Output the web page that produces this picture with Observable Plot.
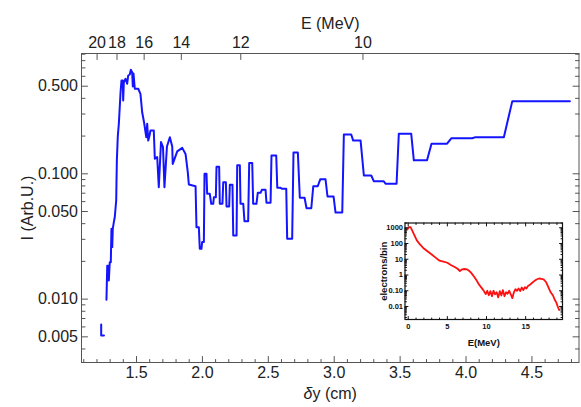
<!DOCTYPE html>
<html><head><meta charset="utf-8">
<script src="https://cdn.jsdelivr.net/npm/d3@7"></script>
<script src="https://cdn.jsdelivr.net/npm/@observablehq/plot@0.6"></script>
<style>
body{margin:0;background:#fff;}
#wrap{position:relative;width:581px;height:407px;overflow:hidden;}
#inset{position:absolute;left:370px;top:215px;}
</style></head><body>
<div id="wrap"><div id="main"></div><div id="inset"></div></div>
<script>
// ---- main curve (δy in cm, intensity in arb. units) ----
const dyIsolated = [1.232, 1.232, 1.253];
const iIsolated = [0.00627, 0.00512, 0.00512];
const dyMain = [1.272,1.278,1.285,1.290,1.297,1.305,1.310,1.316,1.320,1.328,1.335,1.346,1.348,1.351,1.358,1.366,1.379,1.386,1.396,1.399,1.404,1.417,1.429,1.437,1.449,1.457,1.467,1.472,1.477,1.487,1.513,1.530,1.543,1.557,1.574,1.581,1.589,1.599,1.606,1.631,1.639,1.657,1.669,1.686,1.701,1.712,1.731,1.753,1.771,1.775,1.809,1.847,1.872,1.889,1.897,1.948,1.955,1.973,1.980,1.993,1.998,2.011,2.016,2.031,2.036,2.056,2.067,2.082,2.087,2.102,2.107,2.127,2.132,2.152,2.158,2.178,2.183,2.203,2.208,2.228,2.234,2.259,2.264,2.284,2.289,2.310,2.319,2.347,2.355,2.378,2.385,2.410,2.420,2.441,2.451,2.479,2.486,2.517,2.524,2.560,2.568,2.593,2.605,2.636,2.643,2.681,2.691,2.724,2.739,2.775,2.790,2.826,2.841,2.875,2.894,2.934,2.949,2.995,3.010,3.061,3.073,3.129,3.144,3.200,3.225,3.281,3.300,3.376,3.389,3.473,3.490,3.584,3.604,3.704,3.738,3.856,3.888,4.047,4.072,4.287,4.351,4.788];
const iMain = [0.00987,0.0185,0.0185,0.0141,0.0197,0.0197,0.0364,0.0260,0.0364,0.0411,0.0450,0.0612,0.0837,0.129,0.199,0.251,0.448,0.555,0.555,0.385,0.538,0.573,0.523,0.609,0.620,0.676,0.647,0.497,0.632,0.477,0.477,0.435,0.310,0.258,0.196,0.251,0.184,0.202,0.222,0.222,0.132,0.136,0.0782,0.179,0.163,0.0782,0.165,0.196,0.165,0.120,0.151,0.161,0.144,0.103,0.0821,0.0796,0.0375,0.0375,0.0252,0.0252,0.0285,0.0285,0.100,0.100,0.0692,0.0692,0.0576,0.0576,0.0650,0.0650,0.114,0.114,0.0576,0.0576,0.0857,0.0857,0.0548,0.0548,0.0817,0.0817,0.0322,0.0322,0.117,0.117,0.0576,0.0576,0.0418,0.0418,0.122,0.122,0.0576,0.0576,0.0705,0.0705,0.0745,0.0745,0.0587,0.0587,0.140,0.140,0.0773,0.0773,0.0759,0.0759,0.0303,0.0303,0.148,0.148,0.0644,0.0644,0.0531,0.0531,0.0796,0.0796,0.0904,0.0904,0.0659,0.0659,0.0491,0.0491,0.206,0.206,0.184,0.184,0.0969,0.0969,0.0873,0.0873,0.0832,0.0832,0.209,0.209,0.128,0.128,0.174,0.174,0.192,0.192,0.196,0.196,0.380,0.380];

// ---- axes ----
const eTickPos = [1.201, 1.352, 1.558, 1.840, 2.291, 3.218];
const eTickLabels = ["20", "18", "16", "14", "12", "10"];
const xMajorTicks = [1.5, 2.0, 2.5, 3.0, 3.5, 4.0, 4.5];
const xTickLabels = ["1.5", "2.0", "2.5", "3.0", "3.5", "4.0", "4.5"];
const xMinorTicks = [1.1,1.2,1.3,1.4,1.6,1.7,1.8,1.9,2.1,2.2,2.3,2.4,2.6,2.7,2.8,2.9,3.1,3.2,3.3,3.4,3.6,3.7,3.8,3.9,4.1,4.2,4.3,4.4,4.6,4.7,4.8];
const yMajorTicks = [0.005, 0.01, 0.05, 0.1, 0.5];
const yTickLabels = ["0.005", "0.010", "0.050", "0.100", "0.500"];
const yMinorTicks = [0.004,0.006,0.007,0.008,0.009,0.02,0.03,0.04,0.06,0.07,0.08,0.09,0.2,0.3,0.4,0.6,0.7,0.8,0.9];

// ---- inset spectrum ----
const insetE = [-0.13,0.1,0.3,0.5,0.8,1.1,1.5,2.0,2.5,3.0,3.5,4.0,4.5,5.0,5.5,6.0,6.3,6.6,6.9,7.2,7.5,7.8,8.1,8.4,8.7,9.0,9.3,9.6,9.9,10.1,10.3,10.5,10.7,10.9,11.1,11.3,11.5,11.7,11.9,12.1,12.3,12.5,12.7,12.9,13.1,13.3,13.5,13.7,13.9,14.1,14.3,14.5,14.7,14.9,15.1,15.3,15.5,15.8,16.1,16.4,16.7,17.0,17.3,17.6,17.9,18.2,18.5,18.7,18.9,19.1,19.3];
const insetN = [760,1100,1100,690,330,157,87,48,31,20,12.6,8.1,7,6,4.2,3.1,2.5,1.8,2.3,2.4,2.3,1.8,1.26,0.81,0.49,0.27,0.17,0.11,0.061,0.10,0.052,0.095,0.045,0.10,0.06,0.08,0.038,0.095,0.05,0.11,0.045,0.08,0.065,0.10,0.06,0.034,0.08,0.125,0.10,0.14,0.095,0.16,0.11,0.17,0.14,0.2,0.23,0.31,0.41,0.52,0.6,0.56,0.52,0.36,0.17,0.08,0.05,0.028,0.019,0.01,0.006];
const insetXMajor = [0, 5, 10, 15];
const insetXLabels = ["0", "5", "10", "15"];
const insetXMinor = [1,2,3,4,6,7,8,9,11,12,13,14,16,17,18,19];
const insetYMajor = [0.01, 0.1, 1, 10, 100, 1000];
const insetYLabels = ["0.01", "0.10", "1", "10", "100", "1000"];

const font = "'Liberation Sans', Arial, sans-serif";
const frameColor = "#555";
const textColor = "#222";
const blue = "#1414ff";

// inward tick marks drawn as short vectors from the frame
const tickShape = {draw(ctx, l) { ctx.moveTo(0, 0); ctx.lineTo(0, -l); }};
function frameTicks(values, side, len, stroke, sw = 1) {
  const base = {length: len, shape: tickShape, anchor: "start", stroke, strokeWidth: sw};
  if (side === "left") return Plot.vector(values, {...base, y: d => d, frameAnchor: "left", rotate: 90});
  if (side === "right") return Plot.vector(values, {...base, y: d => d, frameAnchor: "right", rotate: -90});
  if (side === "top") return Plot.vector(values, {...base, x: d => d, frameAnchor: "top", rotate: 180});
  return Plot.vector(values, {...base, x: d => d, frameAnchor: "bottom", rotate: 0});
}

const mainRows = dyMain.map((d, i) => ({x: d, y: iMain[i]}));
const isoRows = dyIsolated.map((d, i) => ({x: d, y: iIsolated[i]}));

const main = Plot.plot({
  width: 581, height: 407,
  marginTop: 53, marginBottom: 45, marginLeft: 81, marginRight: 2.5,
  style: {fontFamily: font, fontSize: "16px", color: textColor, background: "white"},
  x: {domain: [1.0827, 4.857], axis: null},
  y: {type: "log", domain: [0.00312, 0.912], axis: null},
  marks: [
    Plot.line(isoRows, {x: "x", y: "y", stroke: blue, strokeWidth: 2}),
    Plot.line(mainRows, {x: "x", y: "y", stroke: blue, strokeWidth: 2}),
    Plot.frame({stroke: frameColor}),
    frameTicks(xMajorTicks, "bottom", 6, frameColor),
    frameTicks(xMinorTicks, "bottom", 3, frameColor),
    frameTicks(eTickPos, "top", 6, frameColor),
    frameTicks(yMajorTicks, "left", 6, frameColor),
    frameTicks(yMinorTicks, "left", 3.5, frameColor),
    frameTicks(yMajorTicks, "right", 6, frameColor),
    frameTicks(yMinorTicks, "right", 3.5, frameColor),
    Plot.text(xMajorTicks, {x: d => d, frameAnchor: "bottom", lineAnchor: "top", dy: 4, text: (d, i) => xTickLabels[i]}),
    Plot.text(eTickPos, {x: d => d, frameAnchor: "top", lineAnchor: "bottom", dy: -6, text: (d, i) => eTickLabels[i]}),
    Plot.text(yMajorTicks, {y: d => d, frameAnchor: "left", textAnchor: "end", dx: -3.5, text: (d, i) => yTickLabels[i]}),
    Plot.text(["E (MeV)"], {text: d => d, frameAnchor: "top", dy: -36}),
    Plot.text(["I (Arb.U.)"], {text: d => d, frameAnchor: "left", textAnchor: "middle", dx: -54, rotate: -90}),
    Plot.text(["δy (cm)"], {text: d => d, frameAnchor: "bottom", dy: 36})
  ]
});
d3.select(main).selectAll("text").filter(function () { return this.textContent === "δy (cm)"; })
  .each(function () {
    const t = d3.select(this);
    t.text(null);
    t.append("tspan").attr("font-style", "italic").text("δ");
    t.append("tspan").text("y (cm)");
  });
document.getElementById("main").append(main);

const insetRows = insetE.map((e, i) => ({x: e, y: insetN[i]}));
const insetMinorY = [0.001, 0.01, 0.1, 1, 10, 100, 1000]
  .flatMap(p => [2, 3, 4, 5, 6, 7, 8, 9].map(k => k * p))
  .filter(v => v >= 0.0015 && v <= 2000);

const ink = "#111";
const inset = Plot.plot({
  width: 200, height: 135,
  marginLeft: 34.5, marginTop: 7.5, marginRight: 8, marginBottom: 31,
  style: {fontFamily: font, fontSize: "7.5px", fontWeight: "bold", color: ink, background: "transparent", overflow: "visible"},
  x: {domain: [-0.41, 19.71], axis: null},
  y: {type: "log", domain: [0.0015, 2000], axis: null},
  marks: [
    Plot.frame({fill: "white"}),
    Plot.line(insetRows, {x: "x", y: "y", stroke: "#ff1010", strokeWidth: 1.8}),
    Plot.frame({stroke: ink, strokeWidth: 1.2}),
    frameTicks(insetXMajor, "bottom", 3, ink),
    frameTicks(insetXMinor, "bottom", 1.5, ink),
    frameTicks(insetXMajor, "top", 3, ink),
    frameTicks(insetXMinor, "top", 1.5, ink),
    frameTicks(insetYMajor, "left", 3, ink),
    frameTicks(insetMinorY, "left", 1.5, ink),
    frameTicks(insetYMajor, "right", 3, ink),
    frameTicks(insetMinorY, "right", 1.5, ink),
    Plot.text(insetXMajor, {x: d => d, frameAnchor: "bottom", lineAnchor: "top", dy: 4, text: (d, i) => insetXLabels[i]}),
    Plot.text(insetYMajor, {y: d => d, frameAnchor: "left", textAnchor: "end", dx: -2, text: (d, i) => insetYLabels[i]}),
    Plot.text(["E(MeV)"], {text: d => d, frameAnchor: "bottom", dy: 26.5, fontSize: 9.5}),
    Plot.text(["electrons/bin"], {text: d => d, frameAnchor: "left", textAnchor: "middle", dx: -21.5, rotate: -90, fontSize: 9.5})
  ]
});
document.getElementById("inset").append(inset);
</script>
</body></html>
